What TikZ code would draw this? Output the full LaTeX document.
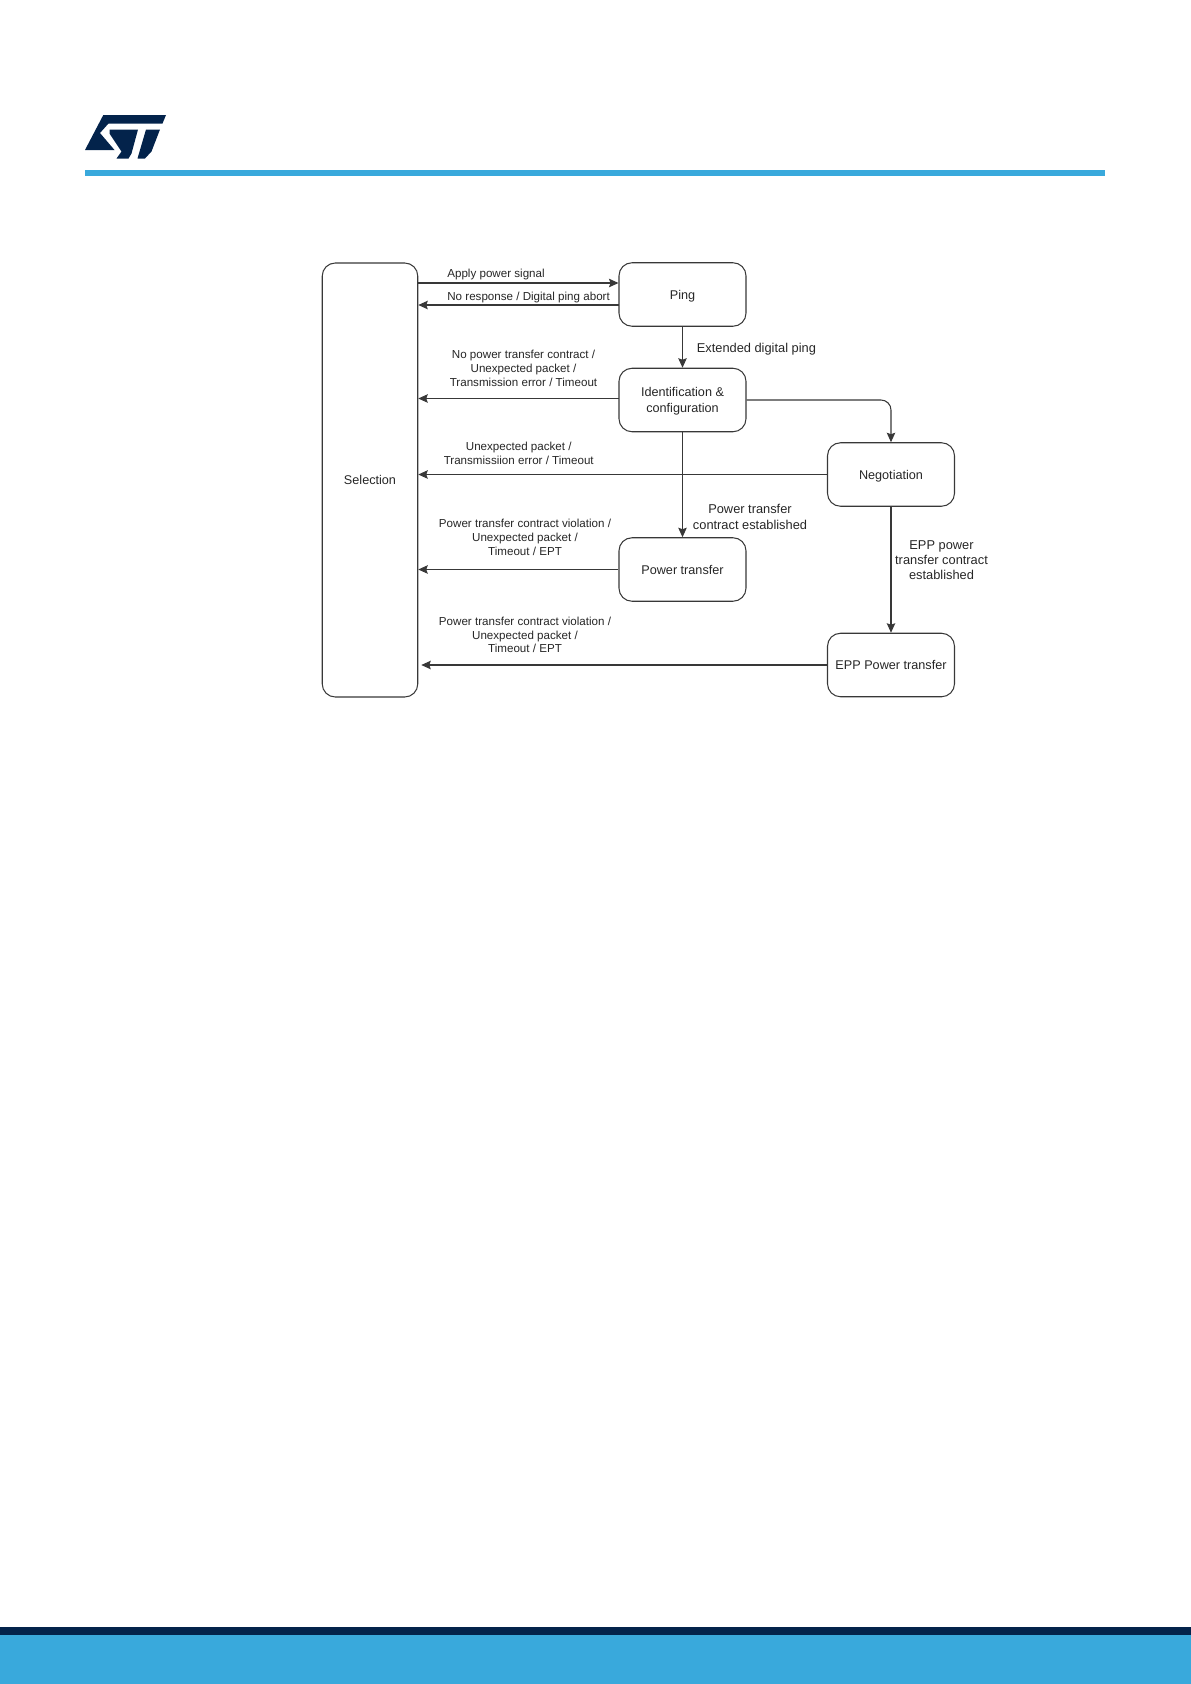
\documentclass[tikz,border=0pt]{standalone}
\usepackage{fontspec}
\setmainfont{Liberation Sans}
\usetikzlibrary{arrows.meta}
\definecolor{stblue}{HTML}{39A9DC}
\definecolor{stdark}{HTML}{03234B}
\definecolor{lineco}{HTML}{383838}
\begin{document}
\begin{tikzpicture}[
  box/.style={rectangle, draw=lineco, line width=0.6pt, rounded corners=0.26cm, minimum width=2.54cm, minimum height=1.27cm, text centered, align=center, inner sep=0pt, text depth=0pt, text=black!85, font=\fontsize{7.2}{9.2}\selectfont},
  arrow/.style={-{Stealth[length=0.19cm,width=0.17cm,inset=0.03cm]}, lineco, line width=0.6pt},
  lbl/.style={align=center, inner sep=0pt, text=black!85, font=\fontsize{6.6}{7.85}\selectfont},
  lblbig/.style={align=center, inner sep=0pt, text=black!85, font=\fontsize{7.3}{8.7}\selectfont}
]
\useasboundingbox (0,0) rectangle (23.82,-33.68);
% page furniture
\fill[stblue] (1.7,-3.4) rectangle (22.1,-3.52);
\fill[stdark] (0,-32.54) rectangle (23.82,-32.7);
\fill[stblue] (0,-32.7) rectangle (23.82,-33.68);
\fill[stdark] (2.066,-2.3) -- (3.32,-2.3) -- (3.25,-2.47) -- (2.17,-2.47) -- (2.0,-2.66) -- (2.29,-3.0) -- (1.7,-3.0) -- cycle;
\fill[stdark] (2.19,-2.59) -- (2.76,-2.59) -- (2.63,-3.07) -- (2.57,-3.17) -- (2.33,-3.17) -- (2.43,-3.03) -- (2.19,-2.67) -- cycle;
\fill[stdark] (2.92,-2.59) -- (3.2,-2.59) -- (3.03,-3.03) -- (2.9,-3.17) -- (2.75,-3.17) -- cycle;

\node[box, minimum width=1.91cm, minimum height=8.68cm] (selection) at (7.4,-9.6) {Selection};
\node[box] (ping) at (13.65,-5.89) {Ping};
\node[box] (ident) at (13.65,-8) {Identification \&\\configuration};
\node[box] (nego) at (17.82,-9.49) {Negotiation};
\node[box] (power) at (13.65,-11.39) {Power transfer};
\node[box] (epp) at (17.82,-13.3) {EPP Power transfer};

\coordinate (pingin) at (12.37,-5.66);
\coordinate (pingout) at (12.37,-6.1);
\coordinate (identout) at (12.37,-7.97);

\draw[arrow] (selection.east |- pingin) -- (pingin);
\draw[arrow] (pingout) -- (selection.east |- pingout);
\draw[arrow] (ping) -- (ident);
\draw[arrow] (identout) -- (selection.east |- identout);
\draw[arrow, rounded corners=0.2cm] (ident.east) -- (nego.north |- ident.east) -- (nego.north);
\draw[arrow] (nego.west) -- (selection.east |- nego.west);
\draw[arrow] (ident) -- (power);
\draw[arrow] (power.west) -- (selection.east |- power.west);
\draw[arrow] (nego) -- (epp);
\draw[arrow, shorten >=0.06cm] (epp.west) -- (selection.east |- epp.west);

\node[lbl, anchor=west] (applylbl) at (8.94,-5.49) {Apply power signal};
\node[lbl, anchor=west] (noresplbl) at (8.94,-5.94) {No response / Digital ping abort};
\node[lbl] (idlbl) at (10.47,-7.37) {No power transfer contract /\\Unexpected packet /\\Transmission error / Timeout};
\node[lbl] (negolbl) at (10.375,-9.07) {Unexpected packet /\\Transmissiion error / Timeout};
\node[lbl] (powerlbl) at (10.5,-10.745) {Power transfer contract violation /\\Unexpected packet /\\Timeout / EPT};
\node[lbl] (epplbl) at (10.5,-12.7) {Power transfer contract violation /\\Unexpected packet /\\Timeout / EPT};
\node[lblbig, anchor=west] (extlbl) at (13.93,-6.98) {Extended digital ping};
\node[lblbig] (estlbl) at (15,-10.34) {Power transfer\\contract established};
\node[lblbig] (eppestlbl) at (18.83,-11.2) {EPP power\\transfer contract\\established};
\end{tikzpicture}
\end{document}
